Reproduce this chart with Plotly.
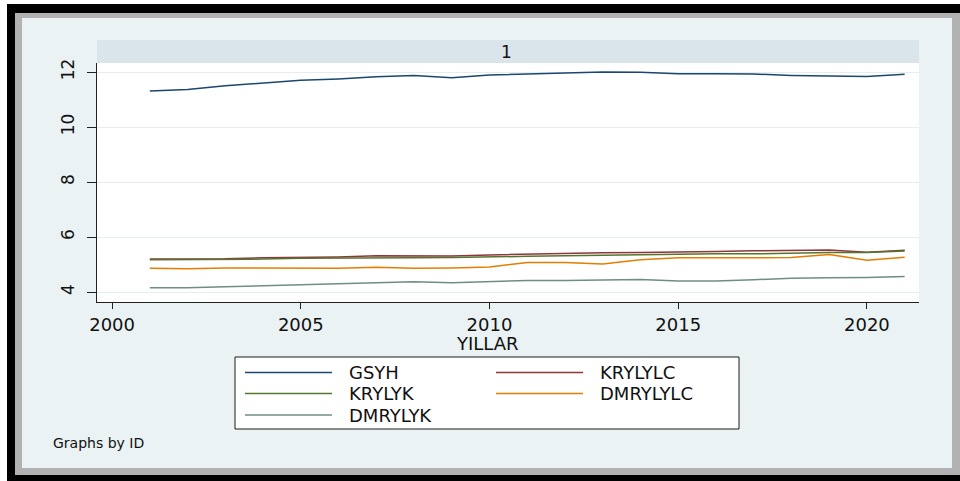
import plotly.graph_objects as go

# Yearly series for ID = 1
years = [2001, 2002, 2003, 2004, 2005, 2006, 2007, 2008, 2009, 2010, 2011,
         2012, 2013, 2014, 2015, 2016, 2017, 2018, 2019, 2020, 2021]

gsyh = [11.31, 11.37, 11.50, 11.61, 11.70, 11.75, 11.83, 11.88, 11.79, 11.89, 11.93,
        11.95, 12.00, 11.99, 11.94, 11.94, 11.93, 11.88, 11.87, 11.84, 11.92]
krylylc = [5.20, 5.20, 5.21, 5.25, 5.26, 5.28, 5.32, 5.31, 5.31, 5.35, 5.38,
           5.40, 5.43, 5.44, 5.47, 5.48, 5.50, 5.52, 5.53, 5.45, 5.52]
krylyk = [5.18, 5.18, 5.19, 5.20, 5.23, 5.23, 5.25, 5.25, 5.26, 5.27, 5.30,
          5.32, 5.34, 5.36, 5.38, 5.39, 5.39, 5.42, 5.44, 5.44, 5.49]
dmrylylc = [4.87, 4.85, 4.88, 4.87, 4.87, 4.87, 4.90, 4.87, 4.88, 4.91, 5.08,
            5.08, 5.02, 5.18, 5.25, 5.24, 5.25, 5.26, 5.37, 5.16, 5.27]
dmrylyk = [4.16, 4.16, 4.19, 4.24, 4.27, 4.30, 4.33, 4.38, 4.34, 4.39, 4.42,
           4.42, 4.43, 4.46, 4.40, 4.40, 4.45, 4.50, 4.52, 4.53, 4.57]

series_names = ["GSYH", "KRYLYLC", "KRYLYK", "DMRYLYLC", "DMRYLYK"]
series_values = [gsyh, krylylc, krylyk, dmrylylc, dmrylyk]
series_colors = ["#1A476F", "#90353B", "#55752F", "#E37E00", "#6E8E84"]

x_ticks = [2000, 2005, 2010, 2015, 2020]
y_ticks = [4, 6, 8, 10, 12]
panel_label = "1"
x_title = "YILLAR"
note = "Graphs by ID"

W, H = 960, 481
FONT = "DejaVu Sans"


def px(x):
    return x / W


def py(y):
    return 1 - y / H


fig = go.Figure()
for name, vals, col in zip(series_names, series_values, series_colors):
    fig.add_trace(go.Scatter(x=years, y=vals, mode="lines", name=name,
                             line=dict(color=col, width=1.5), showlegend=False))

# plot region in pixels
L, R, T, B = 97, 919, 63, 302

shapes = [
    # black frame, drop shadow, graph region
    dict(type="rect", xref="paper", yref="paper", x0=px(7), x1=px(960), y0=py(481), y1=py(4),
         fillcolor="#000000", line=dict(width=0), layer="below"),
    dict(type="rect", xref="paper", yref="paper", x0=px(15), x1=px(960), y0=py(475), y1=py(13),
         fillcolor="#B2B2B2", line=dict(width=0), layer="below"),
    dict(type="rect", xref="paper", yref="paper", x0=px(22), x1=px(952), y0=py(468), y1=py(18),
         fillcolor="#EAF2F3", line=dict(width=0), layer="below"),
    # plot region
    dict(type="rect", xref="paper", yref="paper", x0=px(L), x1=px(R), y0=py(B), y1=py(T),
         fillcolor="#FFFFFF", line=dict(width=0), layer="below"),
    # by-group strip
    dict(type="rect", xref="paper", yref="paper", x0=px(L), x1=px(R), y0=py(T), y1=py(40),
         fillcolor="#D9E5EB", line=dict(width=0), layer="below"),
    # legend box
    dict(type="rect", xref="paper", yref="paper", x0=px(235), x1=px(739), y0=py(429), y1=py(357),
         fillcolor="#FFFFFF", line=dict(color="#1a1a1a", width=1), layer="above"),
]

annotations = [
    dict(text=panel_label, xref="paper", yref="paper", x=px(507), y=py(51.5),
         xanchor="center", yanchor="middle", showarrow=False,
         font=dict(family=FONT, size=17, color="#111111")),
    dict(text=x_title, xref="paper", yref="paper", x=px(487), y=py(343),
         xanchor="center", yanchor="middle", showarrow=False,
         font=dict(family=FONT, size=18, color="#111111")),
    dict(text=note, xref="paper", yref="paper", x=px(51), y=py(443),
         xanchor="left", yanchor="middle", showarrow=False,
         font=dict(family=FONT, size=14, color="#111111")),
]

# legend entries: two columns, filled row by row
row_y = [372.5, 393.5, 415]
col_line = [(245, 332), (496, 583)]
col_text = [347, 598]
for i, (name, col) in enumerate(zip(series_names, series_colors)):
    r, c = divmod(i, 2)
    yy = row_y[r]
    shapes.append(dict(type="line", xref="paper", yref="paper",
                       x0=px(col_line[c][0]), x1=px(col_line[c][1]), y0=py(yy), y1=py(yy),
                       line=dict(color=col, width=1.5), layer="above"))
    annotations.append(dict(text=name, xref="paper", yref="paper", x=px(col_text[c]), y=py(yy),
                            xanchor="left", yanchor="middle", showarrow=False,
                            font=dict(family=FONT, size=18, color="#111111")))

fig.update_layout(
    width=W, height=H,
    margin=dict(l=0, r=0, t=0, b=0, pad=0),
    paper_bgcolor="#FFFFFF",
    plot_bgcolor="rgba(0,0,0,0)",
    shapes=shapes,
    annotations=annotations,
    showlegend=False,
    xaxis=dict(domain=[px(L), px(R)], range=[1999.60, 2021.38], automargin=False,
               tickmode="array", tickvals=x_ticks, ticktext=[str(t) for t in x_ticks],
               ticks="outside", ticklen=6, tickwidth=1, tickcolor="#222222",
               showline=True, linecolor="#222222", linewidth=1,
               showgrid=False, zeroline=False,
               tickfont=dict(family=FONT, size=18, color="#111111")),
    yaxis=dict(domain=[py(B), py(T)], range=[3.64, 12.33], automargin=False,
               tickmode="array", tickvals=y_ticks, ticktext=[str(t) for t in y_ticks],
               ticks="outside", ticklen=9, tickwidth=1, tickcolor="#222222",
               showline=True, linecolor="#222222", linewidth=1,
               showgrid=True, gridcolor="#E4EDEF", gridwidth=1, zeroline=False,
               tickangle=-90, ticklabelstandoff=6,
               tickfont=dict(family=FONT, size=17, color="#111111")),
)

fig.write_html("out.html")
